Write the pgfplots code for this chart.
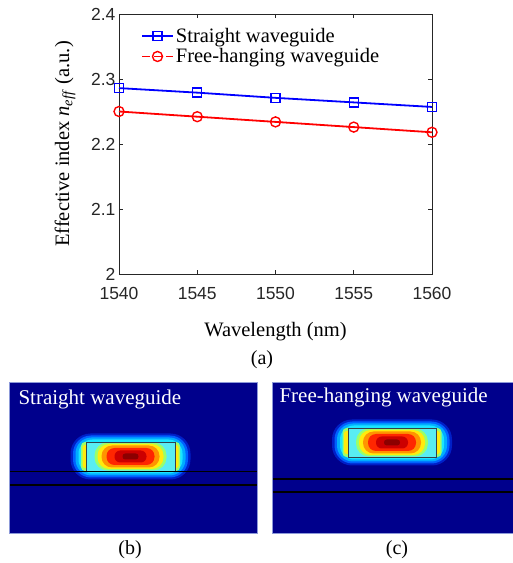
\documentclass[border=0pt]{standalone}
\usepackage{fontspec}
\setmainfont{Liberation Serif}
\setsansfont{Liberation Sans}
\usepackage{pgfplots}
\pgfplotsset{compat=1.18}

\definecolor{axgray}{rgb}{0.15,0.15,0.15}
\definecolor{bgblue}{rgb}{0,0,0.55}
\definecolor{gA}{rgb}{0,0.12,0.78}
\definecolor{gB}{rgb}{0,0.38,1}
\definecolor{gC}{rgb}{0,0.68,1}
\definecolor{gD}{rgb}{0.1,0.9,1}
\definecolor{wgfill}{rgb}{0.35,0.93,0.95}
\definecolor{cGreen}{rgb}{0.6,1,0.42}
\definecolor{cYellow}{rgb}{1,0.92,0.05}
\definecolor{cOrange}{rgb}{1,0.58,0}
\definecolor{cRed}{rgb}{1,0.15,0}
\definecolor{cDark}{rgb}{0.8,0,0}
\definecolor{cDarker}{rgb}{0.55,0,0}
\definecolor{wgline}{rgb}{0.2,0.25,0.3}
\definecolor{panelborder}{rgb}{0.55,0.6,0.85}

\pgfplotsset{lay/.style 2 args={draw=none, fill=#1, rounded corners=#2}}

\begin{document}
\begin{tikzpicture}[x=1pt,y=1pt]
\useasboundingbox (0,0) rectangle (513,563);
\begin{axis}[
  at={(119pt,289pt)}, anchor=south west,
  scale only axis, width=313pt, height=260pt,
  xmin=1540, xmax=1560, ymin=2, ymax=2.4,
  xtick={1540,1545,1550,1555,1560},
  xticklabels={1540,1545,1550,1555,1560},
  ytick={2,2.1,2.2,2.3,2.4},
  yticklabels={2,2.1,2.2,2.3,2.4},
  tick align=inside, major tick length=4pt,
  axis line style={draw=axgray, line width=0.8pt},
  tick style={draw=axgray, line width=0.8pt},
  tick label style={font=\sffamily\fontsize{17.5}{17.5}\selectfont, text=axgray},
  xticklabel style={yshift=-10pt},
  xlabel={Wavelength (nm)},
  ylabel={Effective index \textit{n}\textsubscript{\textit{eff}} (a.u.)},
  label style={font=\fontsize{20.5}{20.5}\selectfont},
  xlabel style={at={(axis description cs:0.5,-0.173)}, anchor=north},
  ylabel style={at={(axis description cs:-0.128,0.5)}, anchor=south},
  clip=false,
  legend style={draw=none, fill=none, at={(axis description cs:0.07,0.955)}, anchor=north west,
    font=\fontsize{20.5}{20.5}\selectfont, row sep=1pt, inner sep=0pt, cells={anchor=west}},
  legend image code/.code={\draw[mark repeat=2,mark phase=2,#1] plot coordinates {(0pt,0pt) (15.5pt,0pt) (31pt,0pt)};},
]
\addlegendimage{blue, line width=1.8pt, mark=square, mark size=4.5pt, mark options={line width=1.4pt}}
\addlegendentry{Straight waveguide}
\addlegendimage{red, line width=1.8pt, dash pattern=on 8pt off 4pt, mark=o, mark size=5pt, mark options={solid, line width=1.4pt}}
\addlegendentry{Free-hanging waveguide}
\addplot[forget plot, blue, line width=1.8pt, mark=square, mark size=4.5pt, mark options={line width=1.4pt}]
  coordinates {(1540,2.286) (1545,2.279) (1550,2.271) (1555,2.264) (1560,2.257)};
\addplot[forget plot, red, line width=1.8pt, mark=o, mark size=5pt, mark options={line width=1.4pt}]
  coordinates {(1540,2.250) (1545,2.242) (1550,2.234) (1555,2.226) (1560,2.218)};
\end{axis}
\node[font=\fontsize{20}{20}\selectfont] at (262,203) {(a)};

% panel (b)
\begin{axis}[
  at={(9pt,30pt)}, anchor=south west, scale only axis, width=248pt, height=151pt,
  xmin=0, xmax=248, ymin=0, ymax=151, xtick=\empty, ytick=\empty,
  axis on top, axis line style={draw=panelborder, line width=0.6pt}]
\addplot[lay={bgblue}{0pt}] coordinates {(0,0) (248,0) (248,151) (0,151)} --cycle;
\addplot[lay={gA}{20pt}] coordinates {(61.5,53.5) (181.5,53.5) (181.5,99.5) (61.5,99.5)} --cycle;
\addplot[lay={gB}{18pt}] coordinates {(64,55.5) (179,55.5) (179,97.5) (64,97.5)} --cycle;
\addplot[lay={gC}{16pt}] coordinates {(66.5,57.5) (176.5,57.5) (176.5,95.5) (66.5,95.5)} --cycle;
\addplot[lay={gD}{14pt}] coordinates {(69.5,59.5) (173.5,59.5) (173.5,93.5) (69.5,93.5)} --cycle;
\addplot[lay={cGreen}{4pt}] coordinates {(72,62) (81,62) (81,91) (72,91)} --cycle;
\addplot[lay={cGreen}{4pt}] coordinates {(162,62) (171,62) (171,91) (162,91)} --cycle;
\addplot[lay={cYellow}{2.5pt}] coordinates {(73.5,65) (79.5,65) (79.5,88) (73.5,88)} --cycle;
\addplot[lay={cYellow}{2.5pt}] coordinates {(163.5,65) (169.5,65) (169.5,88) (163.5,88)} --cycle;
\addplot[lay={wgfill}{0pt}] coordinates {(77,62) (166,62) (166,91) (77,91)} --cycle;
\addplot[lay={cGreen}{13pt}] coordinates {(85.5,62.5) (157.5,62.5) (157.5,90.5) (85.5,90.5)} --cycle;
\addplot[lay={cYellow}{11.5pt}] coordinates {(88.5,64) (154.5,64) (154.5,89) (88.5,89)} --cycle;
\addplot[lay={cOrange}{10.5pt}] coordinates {(92.5,65.5) (150.5,65.5) (150.5,87.5) (92.5,87.5)} --cycle;
\addplot[lay={cRed}{8pt}] coordinates {(97.5,68) (145.5,68) (145.5,85) (97.5,85)} --cycle;
\addplot[lay={cDark}{5.7pt}] coordinates {(105.5,70.5) (137.5,70.5) (137.5,82.5) (105.5,82.5)} --cycle;
\addplot[lay={cDarker}{2.8pt}] coordinates {(113.5,73.5) (129.5,73.5) (129.5,79.5) (113.5,79.5)} --cycle;
\addplot[draw=wgline, line width=0.9pt] coordinates {(77,62) (166,62) (166,91) (77,91)} --cycle;
\addplot[black, line width=1.3pt] coordinates {(0,61.5) (248,61.5)};
\addplot[black, line width=1.3pt] coordinates {(0,48) (248,48)};
\node[white, anchor=base west, font=\fontsize{21}{21}\selectfont] at (axis cs:6,128) {Straight waveguide};
\end{axis}
\node[font=\fontsize{20}{20}\selectfont] at (130,13) {(b)};

% panel (c)
\begin{axis}[
  at={(272pt,30pt)}, anchor=south west, scale only axis, width=241pt, height=151pt,
  xmin=0, xmax=241, ymin=0, ymax=151, xtick=\empty, ytick=\empty,
  axis on top, axis line style={draw=panelborder, line width=0.6pt}]
\addplot[lay={bgblue}{0pt}] coordinates {(0,0) (241,0) (241,151) (0,151)} --cycle;
\addplot[lay={gA}{20pt}] coordinates {(60,67.5) (180,67.5) (180,113.5) (60,113.5)} --cycle;
\addplot[lay={gB}{18pt}] coordinates {(62.5,69.5) (177.5,69.5) (177.5,111.5) (62.5,111.5)} --cycle;
\addplot[lay={gC}{16pt}] coordinates {(65,71.5) (175,71.5) (175,109.5) (65,109.5)} --cycle;
\addplot[lay={gD}{14pt}] coordinates {(68,73.5) (172,73.5) (172,107.5) (68,107.5)} --cycle;
\addplot[lay={cGreen}{4pt}] coordinates {(70.5,76) (79.5,76) (79.5,105) (70.5,105)} --cycle;
\addplot[lay={cGreen}{4pt}] coordinates {(160.5,76) (169.5,76) (169.5,105) (160.5,105)} --cycle;
\addplot[lay={cYellow}{2.5pt}] coordinates {(72,79) (78,79) (78,102) (72,102)} --cycle;
\addplot[lay={cYellow}{2.5pt}] coordinates {(162,79) (168,79) (168,102) (162,102)} --cycle;
\addplot[lay={wgfill}{0pt}] coordinates {(76,76) (164,76) (164,105) (76,105)} --cycle;
\addplot[lay={cGreen}{13pt}] coordinates {(84,76.5) (156,76.5) (156,104.5) (84,104.5)} --cycle;
\addplot[lay={cYellow}{11.5pt}] coordinates {(87,78) (153,78) (153,103) (87,103)} --cycle;
\addplot[lay={cOrange}{10.5pt}] coordinates {(91,79.5) (149,79.5) (149,101.5) (91,101.5)} --cycle;
\addplot[lay={cRed}{8pt}] coordinates {(96,82) (144,82) (144,99) (96,99)} --cycle;
\addplot[lay={cDark}{5.7pt}] coordinates {(104,84.5) (136,84.5) (136,96.5) (104,96.5)} --cycle;
\addplot[lay={cDarker}{2.8pt}] coordinates {(112,87.5) (128,87.5) (128,93.5) (112,93.5)} --cycle;
\addplot[draw=wgline, line width=0.9pt] coordinates {(76,76) (164,76) (164,105) (76,105)} --cycle;
\addplot[black, line width=1.3pt] coordinates {(0,54) (241,54)};
\addplot[black, line width=1.3pt] coordinates {(0,41) (241,41)};
\node[white, anchor=base west, font=\fontsize{21}{21}\selectfont] at (axis cs:4,130) {Free-hanging waveguide};
\end{axis}
\node[font=\fontsize{20}{20}\selectfont] at (397,13) {(c)};
\end{tikzpicture}
\end{document}
